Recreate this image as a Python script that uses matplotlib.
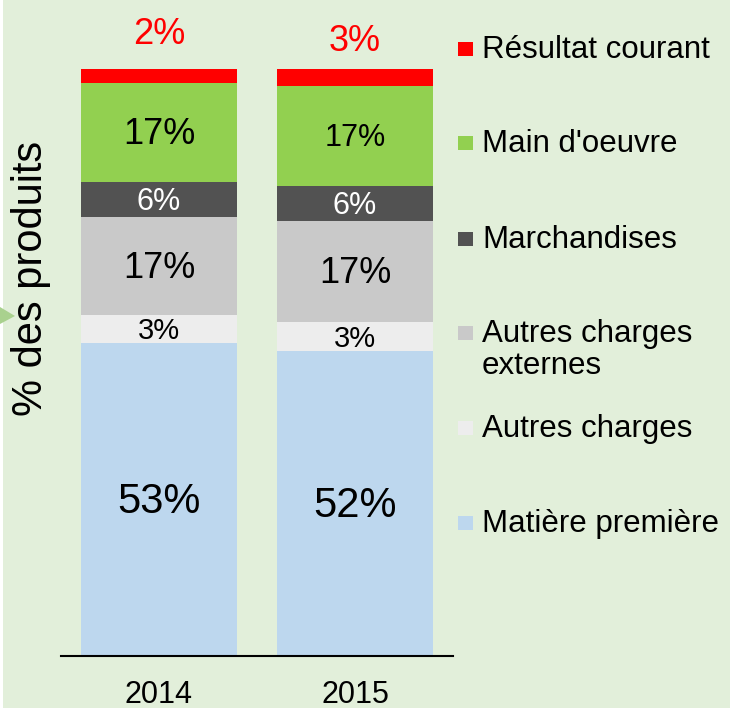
import matplotlib.pyplot as plt
from matplotlib.patches import Rectangle, Polygon

plt.rcParams['font.family'] = ['Liberation Sans', 'DejaVu Sans']

# Data (heights, in % of products)
years = ['2014', '2015']
series = ['Matière première', 'Autres charges', 'Autres charges\nexternes',
          'Marchandises', "Main d'oeuvre", 'Résultat courant']
matiere = [53.3, 52.0]
autres = [4.8, 4.9]
externes = [16.7, 17.2]
marchandises = [6.0, 6.0]
main_oeuvre = [16.9, 17.0]
resultat = [2.4, 2.9]
labels = [['53%', '52%'], ['3%', '3%'], ['17%', '17%'],
          ['6%', '6%'], ['17%', '17%'], ['2%', '3%']]
colors = ['#BDD7EE', '#EDEDED', '#C9C9C9', '#525252', '#92D050', '#FF0000']
label_colors = ['black', 'black', 'black', 'white', 'black', 'red']
label_sizes = [[30, 30], [21, 21], [26, 26], [22, 22], [26, 22], [26, 26]]
top_offset = [5.8, 4.6]

values = [matiere, autres, externes, marchandises, main_oeuvre, resultat]

fig = plt.figure(figsize=(7.3, 7.14), dpi=100)
fig.patch.set_facecolor('white')
# green background panel
fig.patches.append(Rectangle((3 / 730, 6 / 714), 727 / 730, 708 / 714,
                             transform=fig.transFigure, facecolor='#E2EFDA',
                             edgecolor='none', zorder=-2))
# small decorative arrow on the left edge
fig.patches.append(Polygon([(0, 1 - 307 / 714), (15 / 730, 1 - 316 / 714), (0, 1 - 324 / 714)],
                           closed=True, transform=fig.transFigure,
                           facecolor='#A9D18E', edgecolor='none', zorder=-1))

ax = fig.add_axes([61 / 730, 58 / 714, 392 / 730, 587 / 714])
ax.patch.set_alpha(0)
ax.set_zorder(1)

x = range(len(years))
bottom = [0, 0]
for i, vals in enumerate(values):
    ax.bar(x, vals, width=0.8, bottom=bottom, color=colors[i], edgecolor='none')
    for j, v in enumerate(vals):
        if i == len(values) - 1:
            y = bottom[j] + v + top_offset[j]
        else:
            y = bottom[j] + v / 2 - 0.4
        ax.text(j, y, labels[i][j], ha='center', va='center',
                color=label_colors[i], fontsize=label_sizes[i][j])
    bottom = [b + v for b, v in zip(bottom, vals)]

ax.set_xlim(-0.5, 1.5)
ax.set_ylim(0, 100)
ax.set_xticks(list(x))
ax.set_xticklabels(years, fontsize=22)
ax.tick_params(axis='x', length=0, pad=17)
ax.set_yticks([])
for s in ['top', 'right', 'left']:
    ax.spines[s].set_visible(False)
ax.spines['bottom'].set_linewidth(1.5)

fig.text(31 / 730, 1 - 278 / 714, '% des produits', rotation=90,
         ha='center', va='center', fontsize=30)

# legend, top to bottom
legend_y = [49, 143, 239, 333, 428, 523]
for k, name in enumerate(series[::-1]):
    col = colors[::-1][k]
    yc = 1 - legend_y[k] / 714
    fig.patches.append(Rectangle((458 / 730, yc - 7 / 714), 15 / 730, 14 / 714,
                                 transform=fig.transFigure, facecolor=col,
                                 edgecolor='none', zorder=2))
    fig.text(482 / 730, yc + 14 / 714, name, ha='left', va='top',
             fontsize=22.5, linespacing=1.1)

fig.savefig('out.png', dpi=100, facecolor=fig.get_facecolor())
